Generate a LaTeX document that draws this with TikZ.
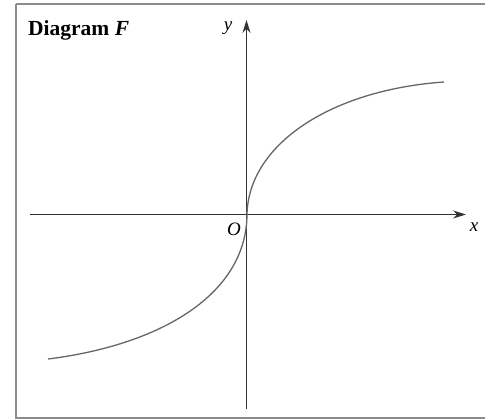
\documentclass[tikz,border=0pt]{standalone}
\usepackage{fontspec}
\setmainfont{Liberation Serif}
\usetikzlibrary{arrows.meta}
\tikzset{
  axis/.style={draw=black!80, line width=1pt, -{Stealth[length=13pt,width=8pt]}},
  curve/.style={draw=black!60, line width=1.3pt},
  frame/.style={draw=black!45, line width=1.2pt},
  lbl/.style={font=\fontsize{19}{19}\selectfont\itshape, inner sep=0pt},
}
\begin{document}
\begin{tikzpicture}[x=1pt,y=-1pt]
\useasboundingbox (0,0) rectangle (485,420);
\clip (0,0) rectangle (485,420);
\fill[white] (0,0) rectangle (485,420);
\draw[frame] (16,4) -- (500,4) (16,4) -- (16,418) -- (500,418);
\coordinate (xl) at (30,214.5);
\coordinate (xr) at (466,214.5);
\coordinate (yb) at (246.5,409);
\coordinate (yt) at (246.5,20);
\draw[axis] (xl) -- (xr);
\draw[axis] (yb) -- (yt);
\coordinate (lo) at (48,359);
\coordinate (o) at (247,215);
\coordinate (hi) at (444,82);
\draw[curve] (lo) .. controls (160,345) and (246,295) .. (o)
  .. controls (248,145) and (330,90) .. (hi);
\node[anchor=west, font=\fontsize{21.5}{21.5}\selectfont\bfseries, inner sep=0pt] (title) at (28,30) {Diagram \textit{F}};
\node[lbl] (ylab) at (228,28) {y};
\node[lbl] (olab) at (234,229) {O};
\node[lbl] (xlab) at (474,227) {x};
\end{tikzpicture}
\end{document}
